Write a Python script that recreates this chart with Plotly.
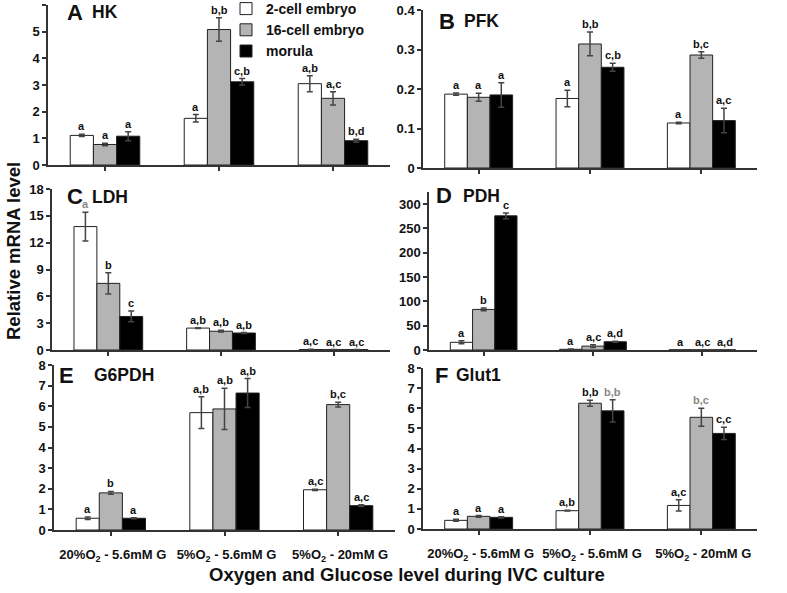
import plotly.graph_objects as go

W, H = 787, 593

conditions = ["20%O<sub>2</sub> - 5.6mM G", "5%O<sub>2</sub> - 5.6mM G", "5%O<sub>2</sub> - 20mM G"]
stages = ["2-cell embryo", "16-cell embryo", "morula"]
stage_fill = ["#ffffff", "#b4b4b4", "#000000"]

# values: rows = stages (2-cell, 16-cell, morula), cols = conditions
hk_values = [[1.11, 1.75, 3.05], [0.77, 5.08, 2.50], [1.08, 3.12, 0.91]]
hk_errors = [[0.04, 0.14, 0.30], [0.05, 0.44, 0.25], [0.17, 0.12, 0.06]]
hk_labels = [["a", "a", "a,b"], ["a", "b,b", "a,c"], ["a", "c,b", "b,d"]]

pfk_values = [[0.187, 0.176, 0.114], [0.179, 0.314, 0.286], [0.185, 0.255, 0.120]]
pfk_errors = [[0.003, 0.021, 0.002], [0.010, 0.030, 0.008], [0.031, 0.010, 0.031]]
pfk_labels = [["a", "a", "a"], ["a", "b,b", "b,c"], ["a", "c,b", "a,c"]]

ldh_values = [[13.8, 2.45, 0.05], [7.45, 2.10, 0.04], [3.75, 1.90, 0.04]]
ldh_errors = [[1.6, 0.05, 0.02], [1.2, 0.10, 0.01], [0.6, 0.05, 0.01]]
ldh_labels = [["a", "a,b", "a,c"], ["b", "a,b", "a,c"], ["c", "a,b", "a,c"]]

pdh_values = [[15.8, 1.4, 0.5], [83.5, 8.0, 0.3], [276.0, 17.0, 0.3]]
pdh_errors = [[3.0, 0.5, 0.1], [3.0, 3.0, 0.1], [6.0, 1.0, 0.1]]
pdh_labels = [["a", "a", "a"], ["b", "a,c", "a,c"], ["c", "a,d", "a,d"]]

g6pdh_values = [[0.57, 5.69, 1.95], [1.80, 5.87, 6.08], [0.57, 6.64, 1.18]]
g6pdh_errors = [[0.06, 0.77, 0.03], [0.07, 1.00, 0.12], [0.02, 0.70, 0.04]]
g6pdh_labels = [["a", "a,b", "a,c"], ["b", "a,b", "b,c"], ["a", "a,b", "a,c"]]

glut1_values = [[0.43, 0.91, 1.17], [0.63, 6.25, 5.55], [0.58, 5.87, 4.75]]
glut1_errors = [[0.05, 0.02, 0.28], [0.04, 0.15, 0.45], [0.03, 0.55, 0.30]]
glut1_labels = [["a", "a,b", "a,c"], ["a", "b,b", "b,c"], ["a", "b,b", "c,c"]]

# labels printed in grey in the original
ldh_grey = [[True, False, False], [False, False, False], [False, False, False]]
glut1_grey = [[False, False, False], [False, False, True], [False, True, False]]

panel_letters = ["A", "B", "C", "D", "E", "F"]
panel_genes = ["HK", "PFK", "LDH", "PDH", "G6PDH", "Glut1"]
y_ranges = [[0, 6], [0, 0.4], [0, 18], [0, 325], [0, 8], [0, 8]]
y_dticks = [1, 0.1, 3, 50, 1, 1]

panels = [
    (hk_values, hk_errors, hk_labels, None),
    (pfk_values, pfk_errors, pfk_labels, None),
    (ldh_values, ldh_errors, ldh_labels, ldh_grey),
    (pdh_values, pdh_errors, pdh_labels, None),
    (g6pdh_values, g6pdh_errors, g6pdh_labels, None),
    (glut1_values, glut1_errors, glut1_labels, glut1_grey),
]

# layout geometry (pixels)
x_px = [(48, 390), (423, 757), (52, 390), (429, 757), (54, 395), (423, 757)]
y_px = [(5, 165), (10, 168), (189, 350), (192, 350), (365, 530), (368, 529)]
title_px = [(66, 91, 12.5), (438, 463, 21), (66, 91, 197), (435, 462, 196), (58, 93, 375), (434, 455, 375)]

FONT = "Arial, Liberation Sans, sans-serif"
bargap = 0.39
bw = (1 - bargap) / 3

fig = go.Figure()
layout = dict(
    width=W, height=H, margin=dict(l=0, r=0, t=0, b=0, autoexpand=False),
    paper_bgcolor="white", plot_bgcolor="white",
    barmode="group", bargap=bargap, bargroupgap=0,
    font=dict(family=FONT, color="#111"),
    showlegend=True,
    legend=dict(x=226 / W, y=1 + 7 / H, xanchor="left", yanchor="top",
                bgcolor="rgba(0,0,0,0)", font=dict(size=14, family=FONT, weight=700, color="#111"),
                tracegroupgap=0, itemwidth=30),
)
annotations = []

for p in range(6):
    vals, errs, labs, grey = panels[p]
    ax = "" if p == 0 else str(p + 1)
    xa, ya = "x" + ax, "y" + ax
    for s in range(3):
        fig.add_trace(go.Bar(
            x=conditions, y=vals[s], name=stages[s],
            marker=dict(color=stage_fill[s], line=dict(color="#222", width=1)),
            error_y=dict(type="data", array=errs[s], visible=True, color="#444", thickness=1.5, width=3),
            xaxis=xa, yaxis=ya, showlegend=(p == 0), legendgroup=stages[s],
        ))
        for c in range(3):
            col = "#888" if (grey is not None and grey[s][c]) else "#111"
            annotations.append(dict(
                x=c + (s - 1) * bw, y=vals[s][c] + errs[s][c], xref=xa, yref=ya,
                text=labs[s][c], showarrow=False, xanchor="center", yanchor="bottom", yshift=0,
                font=dict(size=11, family=FONT, weight=700, color=col),
            ))
    x0, x1 = x_px[p]
    y0, y1 = y_px[p]
    bottom_row = p >= 4
    layout["xaxis" + ax] = dict(
        domain=[x0 / W, x1 / W], anchor=ya, type="category", categoryarray=conditions,
        range=[-0.5, 2.5], showline=True, linecolor="#333", linewidth=1.5,
        ticks="outside", ticklen=4, tickwidth=1.5, tickcolor="#333",
        showticklabels=bottom_row, ticklabelstandoff=8, tickangle=0, ticklabelshift=2,
        automargin=False,
        tickfont=dict(size=13, family=FONT, weight=700, color="#111"),
        showgrid=False, zeroline=False, fixedrange=True,
    )
    layout["yaxis" + ax] = dict(
        domain=[1 - y1 / H, 1 - y0 / H], anchor=xa, range=y_ranges[p], dtick=y_dticks[p], tick0=0,
        showline=True, linecolor="#333", linewidth=1.5, automargin=False,
        ticks="outside", ticklen=4, tickwidth=1.5, tickcolor="#333",
        tickfont=dict(size=13, family=FONT, weight=700, color="#111"),
        showgrid=False, zeroline=False, fixedrange=True,
    )
    lx, gx, ty = title_px[p]
    annotations.append(dict(x=lx / W, y=1 - ty / H, xref="paper", yref="paper", text=panel_letters[p],
                            showarrow=False, xanchor="left", yanchor="middle", borderpad=0,
                            font=dict(size=22, family=FONT, weight=700, color="#111")))
    annotations.append(dict(x=gx / W, y=1 - ty / H, xref="paper", yref="paper", text=panel_genes[p],
                            showarrow=False, xanchor="left", yanchor="middle", borderpad=0,
                            font=dict(size=17.5, family=FONT, weight=700, color="#111")))

annotations.append(dict(x=13 / W, y=1 - 251 / H, xref="paper", yref="paper", text="Relative mRNA level",
                        textangle=-90, showarrow=False, xanchor="center", yanchor="middle",
                        font=dict(size=18.5, family=FONT, weight=700, color="#111")))
annotations.append(dict(x=407 / W, y=1 - 574 / H, xref="paper", yref="paper",
                        text="Oxygen and Glucose level during IVC culture",
                        showarrow=False, xanchor="center", yanchor="middle",
                        font=dict(size=18.5, family=FONT, weight=700, color="#111")))

layout["annotations"] = annotations
fig.update_layout(**layout)
fig.write_html("out.html", config={"displayModeBar": False},
               post_script="document.body.style.margin='0';")
